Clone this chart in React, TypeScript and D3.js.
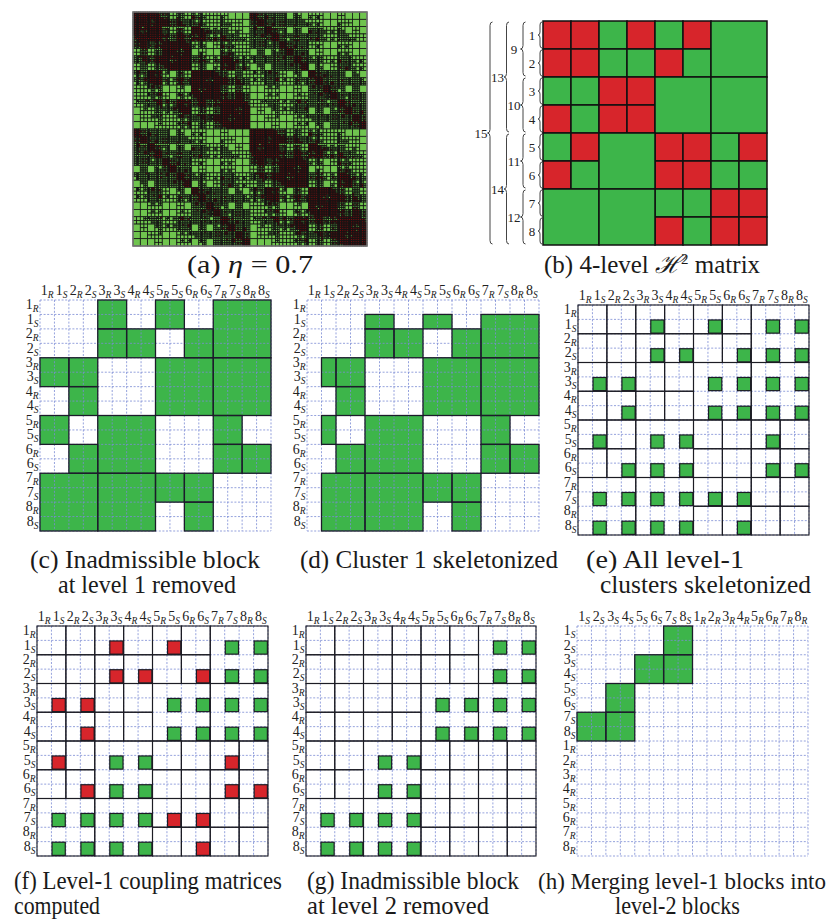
import React, { useMemo } from "react";
import * as d3 from "d3";

// ---------------- data ----------------
// 4-level H2 matrix (panel b): leaf-level blocks, R = inadmissible (dense), G = admissible, '.' = covered by a big block
const H2_LEAF_PATTERN = [
  "RRGRGR..",
  "RRGGRG..",
  "GGRR....",
  "RGRR....",
  "GR..RRGR",
  "RG..RRGG",
  "....GGRR",
  "....RGRR",
];
// level-2 admissible blocks: [row node, col node], each spans 2x2 nodes
const H2_BIG_BLOCKS: [number, number][] = [
  [0, 6],
  [2, 4],
  [2, 6],
  [4, 2],
  [6, 0],
  [6, 2],
];
const TREE_LEVELS = [
  { labels: ["1", "2", "3", "4", "5", "6", "7", "8"], span: 1 },
  { labels: ["9", "10", "11", "12"], span: 2 },
  { labels: ["13", "14"], span: 4 },
  { labels: ["15"], span: 8 },
];
const ORDER_RS = ["1R", "1S", "2R", "2S", "3R", "3S", "4R", "4S", "5R", "5S", "6R", "6S", "7R", "7S", "8R", "8S"];
const ORDER_SR = ["1S", "2S", "3S", "4S", "5S", "6S", "7S", "8S", "1R", "2R", "3R", "4R", "5R", "6R", "7R", "8R"];

// panel (a): admissibility parameter and geometry of the clustered problem (two parallel plates)
const ETA = 0.7;
const PLATE_LENGTH = 1;
const PLATE_WIDTH = 1;
const PLATE_GAP = 0.25;
const PLATE_DEPTH = 6;

const CAPTION_A = ["(a) ", "η", " = 0.7"];
const CAPTION_B = ["(b) 4-level ", "ℋ", "2", " matrix"];
const CAPTION_C = ["(c) Inadmissible block", "at level 1 removed"];
const CAPTION_D = ["(d) Cluster 1 skeletonized"];
const CAPTION_E = ["(e) All level-1", "clusters skeletonized"];
const CAPTION_F = ["(f) Level-1 coupling matrices", "computed"];
const CAPTION_G = ["(g) Inadmissible block", "at level 2 removed"];
const CAPTION_H = ["(h) Merging level-1 blocks into", "level-2 blocks"];

// ---------------- styles ----------------
const GREEN = "#3db54a";
const RED = "#d7252b";
const LIGHT_GREEN = "#6fc44e";
const DENSE = "#820f0f";
const SERIF = "'Liberation Serif', 'Times New Roman', serif";

type Blk = { r: number; c: number; n: number; color: string; big: boolean };
const h2Blocks: Blk[] = [];
H2_LEAF_PATTERN.forEach((row, i) =>
  row.split("").forEach((ch, j) => {
    if (ch !== ".") h2Blocks.push({ r: i, c: j, n: 1, color: ch, big: false });
  })
);
H2_BIG_BLOCKS.forEach(([r, c]) => h2Blocks.push({ r, c, n: 2, color: "G", big: true }));

type CellRect = { r0: number; c0: number; rs: number; cs: number; fill?: string };

// ---------------- panel (a) cluster tree ----------------
type Node = {
  x0: number; x1: number; y0: number; y1: number; z0: number; z1: number;
  start: number; size: number; children?: Node[];
};
function buildPlate(x0: number, x1: number, y0: number, y1: number, z: number, start: number, size: number, depth: number): Node {
  const node: Node = { x0, x1, y0, y1, z0: z, z1: z, start, size };
  if (depth > 0) {
    const half = size / 2;
    if (x1 - x0 >= y1 - y0) {
      const xm = (x0 + x1) / 2;
      node.children = [
        buildPlate(x0, xm, y0, y1, z, start, half, depth - 1),
        buildPlate(xm, x1, y0, y1, z, start + half, half, depth - 1),
      ];
    } else {
      const ym = (y0 + y1) / 2;
      node.children = [
        buildPlate(x0, x1, y0, ym, z, start, half, depth - 1),
        buildPlate(x0, x1, ym, y1, z, start + half, half, depth - 1),
      ];
    }
  }
  return node;
}
const diam = (a: Node) => Math.hypot(a.x1 - a.x0, a.y1 - a.y0, a.z1 - a.z0);
const gap = (a0: number, a1: number, b0: number, b1: number) => Math.max(0, a0 - b1, b0 - a1);
const dist = (a: Node, b: Node) =>
  Math.hypot(gap(a.x0, a.x1, b.x0, b.x1), gap(a.y0, a.y1, b.y0, b.y1), gap(a.z0, a.z1, b.z0, b.z1));

function partition(t: Node, s: Node, out: { t: Node; s: Node; adm: boolean }[]) {
  const d = dist(t, s);
  if (d > 0 && Math.min(diam(t), diam(s)) <= ETA * d) {
    out.push({ t, s, adm: true });
    return;
  }
  if (!t.children && !s.children) {
    out.push({ t, s, adm: false });
    return;
  }
  const tc = t.children ?? [t];
  const sc = s.children ?? [s];
  for (const a of tc) for (const b of sc) partition(a, b, out);
}

// ---------------- helpers ----------------
function bracePath(xa: number, y0: number, y1: number, w: number) {
  const xm = xa - w / 2, xt = xa - w, ym = (y0 + y1) / 2;
  const r = Math.min(w / 2 + 1, (y1 - y0) / 4);
  return `M${xa},${y0} Q${xm},${y0} ${xm},${y0 + r} L${xm},${ym - r} Q${xm},${ym} ${xt},${ym} Q${xm},${ym} ${xm},${ym + r} L${xm},${y1 - r} Q${xm},${y1} ${xa},${y1}`;
}

function SubLabel({ x, y, label, anchor }: { x: number; y: number; label: string; anchor: string }) {
  return (
    <text x={x} y={y} textAnchor={anchor} fontFamily={SERIF} fontSize={14} fill="#222">
      {label.slice(0, -1)}
      <tspan dy={3} fontSize={9.5} fontStyle="italic">{label.slice(-1)}</tspan>
    </text>
  );
}

function GridPanel({
  x, y, w, h, labels, fills = [], outlines = [], squares = [],
}: {
  x: number; y: number; w: number; h: number; labels: string[];
  fills?: CellRect[]; outlines?: CellRect[]; squares?: CellRect[];
}) {
  const xs = d3.scaleLinear().domain([0, 16]).range([x, x + w]);
  const ys = d3.scaleLinear().domain([0, 16]).range([y, y + h]);
  const ticks = d3.range(0, 17);
  const cw = xs(1) - xs(0);
  const ch = ys(1) - ys(0);
  return (
    <g>
      {fills.map((f, i) => (
        <rect key={"f" + i} x={xs(f.c0)} y={ys(f.r0)} width={xs(f.c0 + f.cs) - xs(f.c0)} height={ys(f.r0 + f.rs) - ys(f.r0)} fill={f.fill} />
      ))}
      {ticks.map((t) => (
        <line key={"v" + t} x1={xs(t)} x2={xs(t)} y1={y} y2={y + h} stroke="#7b8bd4" strokeWidth={0.8} strokeDasharray="2,1.6" />
      ))}
      {ticks.map((t) => (
        <line key={"h" + t} y1={ys(t)} y2={ys(t)} x1={x} x2={x + w} stroke="#7b8bd4" strokeWidth={0.8} strokeDasharray="2,1.6" />
      ))}
      {squares.map((f, i) => (
        <rect key={"s" + i} x={xs(f.c0) + 0.6} y={ys(f.r0) + 0.6} width={cw - 1.2} height={ch - 1.2} fill={f.fill} stroke="#1c1c24" strokeWidth={1.2} />
      ))}
      {fills.map((f, i) => (
        <rect key={"fo" + i} x={xs(f.c0)} y={ys(f.r0)} width={xs(f.c0 + f.cs) - xs(f.c0)} height={ys(f.r0 + f.rs) - ys(f.r0)} fill="none" stroke="#1c1c2a" strokeWidth={1.3} />
      ))}
      {outlines.map((f, i) => (
        <rect key={"o" + i} x={xs(f.c0)} y={ys(f.r0)} width={xs(f.c0 + f.cs) - xs(f.c0)} height={ys(f.r0 + f.rs) - ys(f.r0)} fill="none" stroke="#1c1c24" strokeWidth={1.1} />
      ))}
      {labels.map((l, i) => (
        <SubLabel key={"cl" + i} x={xs(i + 0.5)} y={y - 5} label={l} anchor="middle" />
      ))}
      {labels.map((l, i) => (
        <SubLabel key={"rl" + i} x={x - 1.5} y={ys(i + 0.5) + 2} label={l} anchor="end" />
      ))}
    </g>
  );
}

function Caption({ x, y, text, len, size = 24.5 }: { x: number; y: number; text: string; len: number; size?: number }) {
  return (
    <text x={x} y={y} fontFamily={SERIF} fontSize={size} fill="#1a1a1a" textLength={len} lengthAdjust="spacingAndGlyphs">
      {text}
    </text>
  );
}

export default function App() {
  // ----- panel (a)
  const aBlocks = useMemo(() => {
    const leaves = 2 ** PLATE_DEPTH;
    const plateA = buildPlate(0, PLATE_LENGTH, 0, PLATE_WIDTH, 0, 0, leaves, PLATE_DEPTH);
    const plateB = buildPlate(0, PLATE_LENGTH, 0, PLATE_WIDTH, PLATE_GAP, leaves, leaves, PLATE_DEPTH);
    const root: Node = {
      x0: 0, x1: PLATE_LENGTH, y0: 0, y1: PLATE_WIDTH, z0: 0, z1: PLATE_GAP,
      start: 0, size: 2 * leaves, children: [plateA, plateB],
    };
    const out: { t: Node; s: Node; adm: boolean }[] = [];
    partition(root, root, out);
    return { out, total: 2 * leaves };
  }, []);
  const ax = d3.scaleLinear().domain([0, aBlocks.total]).range([133, 367]);
  const ay = d3.scaleLinear().domain([0, aBlocks.total]).range([12, 246]);

  // ----- panel (b)
  const bx = d3.scaleLinear().domain([0, 8]).range([543, 767]);
  const by = d3.scaleLinear().domain([0, 8]).range([21, 245]);
  const braceX = [542, 525.5, 509, 492.5];
  const braceW = [4, 5, 5, 5];
  const labelX = [532, 514, 497.5, 481];

  // ----- derived panels
  const greenBlocks = h2Blocks.filter((b) => b.color === "G");
  const cFills: CellRect[] = greenBlocks.map((b) => ({ r0: 2 * b.r, c0: 2 * b.c, rs: 2 * b.n, cs: 2 * b.n, fill: GREEN }));
  const dFills: CellRect[] = cFills.map((f) => {
    const r0 = f.r0 === 0 ? 1 : f.r0;
    const c0 = f.c0 === 0 ? 1 : f.c0;
    return { r0, c0, rs: f.rs - (r0 - f.r0), cs: f.cs - (c0 - f.c0), fill: GREEN };
  });
  const partOutlines: CellRect[] = h2Blocks.map((b) => ({ r0: 2 * b.r, c0: 2 * b.c, rs: 2 * b.n, cs: 2 * b.n }));
  const sSquares = (colorOf: (b: Blk) => string | null): CellRect[] => {
    const res: CellRect[] = [];
    greenBlocks.forEach((b) => {
      const col = colorOf(b);
      if (!col) return;
      for (let i = b.r; i < b.r + b.n; i++)
        for (let j = b.c; j < b.c + b.n; j++) res.push({ r0: 2 * i + 1, c0: 2 * j + 1, rs: 1, cs: 1, fill: col });
    });
    return res;
  };
  const eSquares = sSquares(() => GREEN);
  const fSquares = sSquares((b) => (b.big ? GREEN : RED));
  const gSquares = sSquares((b) => (b.big ? GREEN : null));
  const hFills: CellRect[] = H2_BIG_BLOCKS.map(([r, c]) => ({ r0: r, c0: c, rs: 2, cs: 2, fill: GREEN }));

  return (
    <svg width={832} height={921} style={{ position: "absolute", left: 0, top: 0, display: "block", background: "#fff" }}>
      <rect width={832} height={921} fill="#fff" />
      {/* (a) */}
      <g>
        <rect x={133} y={12} width={234} height={234} fill="#111" />
        {aBlocks.out.map((b, i) => (
          <rect
            key={i}
            x={ax(b.s.start)}
            y={ay(b.t.start)}
            width={ax(b.s.start + b.s.size) - ax(b.s.start)}
            height={ay(b.t.start + b.t.size) - ay(b.t.start)}
            fill={b.adm ? LIGHT_GREEN : DENSE}
            stroke="#141414"
            strokeWidth={b.adm ? 0.75 : 0.8}
          />
        ))}
        <rect x={133} y={12} width={234} height={234} fill="none" stroke="#777" strokeWidth={1.5} />
      </g>
      <text x={187} y={273} fontFamily={SERIF} fontSize={25} fill="#1a1a1a" textLength={126} lengthAdjust="spacingAndGlyphs">
        {CAPTION_A[0]}
        <tspan fontStyle="italic">{CAPTION_A[1]}</tspan>
        {CAPTION_A[2]}
      </text>

      {/* (b) */}
      <g>
        {h2Blocks.map((b, i) => (
          <rect
            key={i}
            x={bx(b.c)}
            y={by(b.r)}
            width={bx(b.c + b.n) - bx(b.c)}
            height={by(b.r + b.n) - by(b.r)}
            fill={b.color === "G" ? GREEN : RED}
            stroke="#111"
            strokeWidth={1.5}
          />
        ))}
        {TREE_LEVELS.map((lvl, li) =>
          lvl.labels.map((lab, k) => {
            const y0 = by(k * lvl.span) + 1;
            const y1 = by((k + 1) * lvl.span) - 1;
            return (
              <g key={li + "-" + k}>
                <path d={bracePath(braceX[li], y0, y1, braceW[li])} fill="none" stroke="#444" strokeWidth={1} />
                <text x={labelX[li]} y={(y0 + y1) / 2 + 4.5} textAnchor="middle" fontFamily={SERIF} fontSize={13} fill="#222">
                  {lab}
                </text>
              </g>
            );
          })
        )}
      </g>
      <text x={544} y={273} fontFamily={SERIF} fontSize={25} fill="#1a1a1a">
        {CAPTION_B[0]}
        <tspan fontStyle="italic">{CAPTION_B[1]}</tspan>
        <tspan dy={-9} fontSize={15}>{CAPTION_B[2]}</tspan>
        <tspan dy={9}>{CAPTION_B[3]}</tspan>
      </text>

      {/* (c) */}
      <GridPanel x={40} y={300} w={231} h={231} labels={ORDER_RS} fills={cFills} />
      <Caption x={30} y={568} text={CAPTION_C[0]} len={230} />
      <Caption x={58} y={593} text={CAPTION_C[1]} len={178} />

      {/* (d) */}
      <GridPanel x={307} y={300} w={232} h={231} labels={ORDER_RS} fills={dFills} />
      <Caption x={300} y={568} text={CAPTION_D[0]} len={258} />

      {/* (e) */}
      <GridPanel x={578} y={305} w={231} h={230} labels={ORDER_RS} outlines={partOutlines} squares={eSquares} />
      <Caption x={586} y={568} text={CAPTION_E[0]} len={158} />
      <Caption x={600} y={593} text={CAPTION_E[1]} len={211} />

      {/* (f) */}
      <GridPanel x={37} y={626} w={231} h={230} labels={ORDER_RS} outlines={partOutlines} squares={fSquares} />
      <Caption x={14} y={889} text={CAPTION_F[0]} len={268} />
      <Caption x={14} y={914} text={CAPTION_F[1]} len={86} />

      {/* (g) */}
      <GridPanel x={306} y={626} w={230} h={230} labels={ORDER_RS} outlines={partOutlines} squares={gSquares} />
      <Caption x={307} y={889} text={CAPTION_G[0]} len={212} />
      <Caption x={307} y={914} text={CAPTION_G[1]} len={182} />

      {/* (h) */}
      <GridPanel x={577} y={626} w={231} h={230} labels={ORDER_SR} fills={hFills} />
      <Caption x={538} y={889} text={CAPTION_H[0]} len={288} size={23} />
      <Caption x={615} y={914} text={CAPTION_H[1]} len={125} />
    </svg>
  );
}
